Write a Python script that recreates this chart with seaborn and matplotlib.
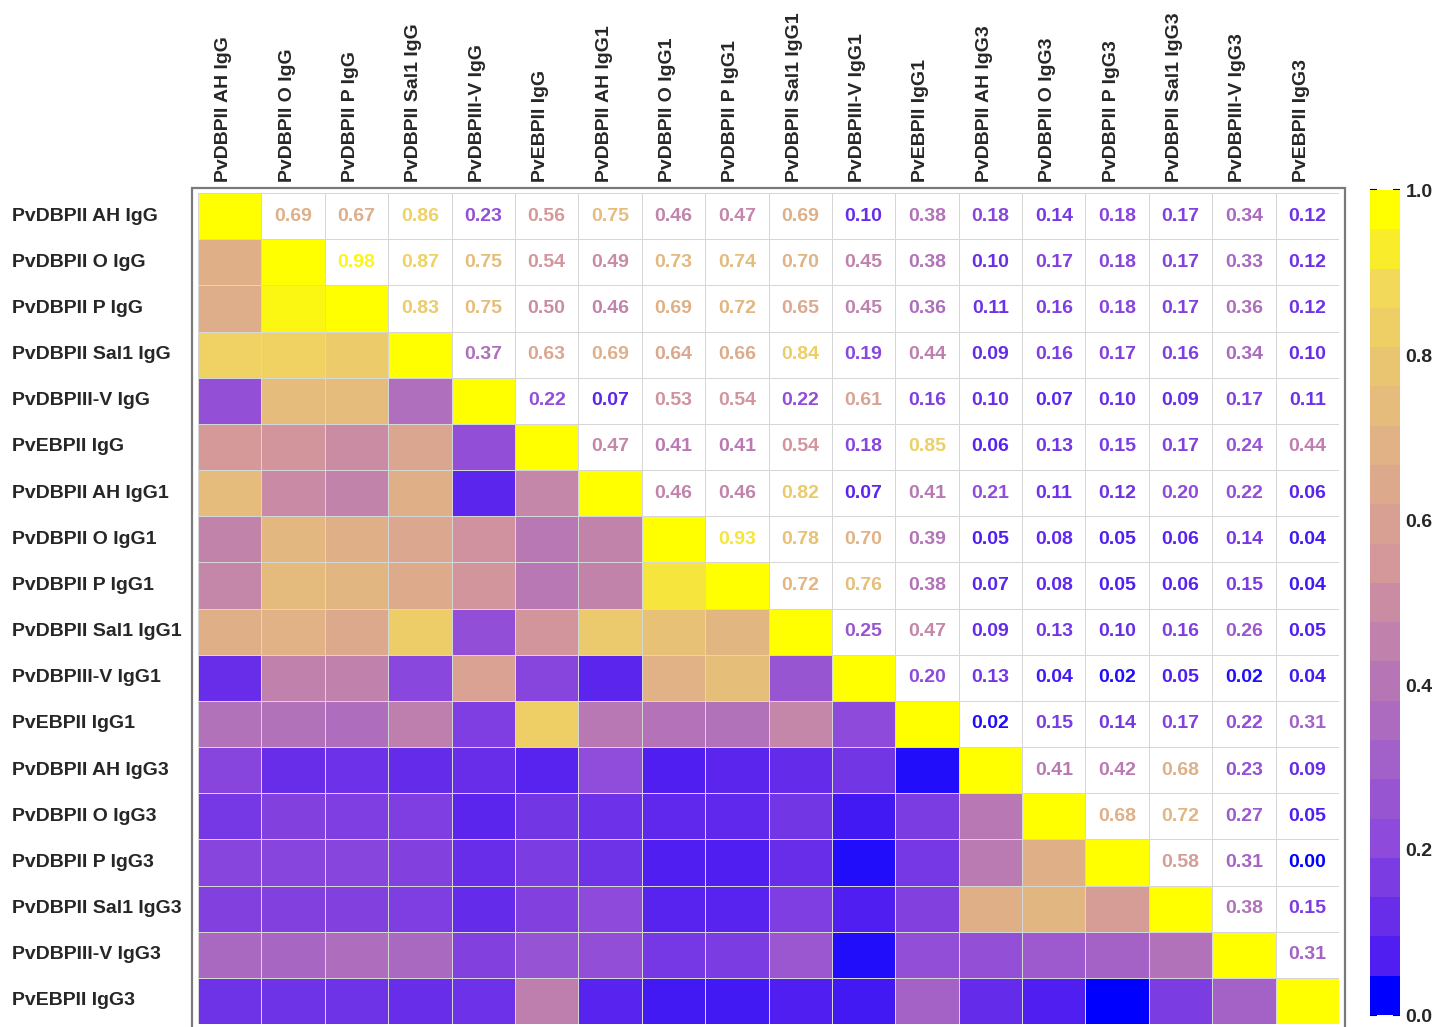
import numpy as np
import matplotlib
matplotlib.use("Agg")
import matplotlib.pyplot as plt
import matplotlib.transforms as mtransforms
from matplotlib.colors import LinearSegmentedColormap, ListedColormap, Normalize
from matplotlib.patches import Rectangle
import seaborn as sns

# antigen / subclass labels (rows and columns)
labels = [
    "PvDBPII AH IgG", "PvDBPII O IgG", "PvDBPII P IgG", "PvDBPII Sal1 IgG",
    "PvDBPIII-V IgG", "PvEBPII IgG",
    "PvDBPII AH IgG1", "PvDBPII O IgG1", "PvDBPII P IgG1", "PvDBPII Sal1 IgG1",
    "PvDBPIII-V IgG1", "PvEBPII IgG1",
    "PvDBPII AH IgG3", "PvDBPII O IgG3", "PvDBPII P IgG3", "PvDBPII Sal1 IgG3",
    "PvDBPIII-V IgG3", "PvEBPII IgG3",
]

# upper triangle, each row starts at the cell right of the diagonal
ah_igg = [0.69, 0.67, 0.86, 0.23, 0.56, 0.75, 0.46, 0.47, 0.69, 0.10, 0.38, 0.18, 0.14, 0.18, 0.17, 0.34, 0.12]
o_igg = [0.98, 0.87, 0.75, 0.54, 0.49, 0.73, 0.74, 0.70, 0.45, 0.38, 0.10, 0.17, 0.18, 0.17, 0.33, 0.12]
p_igg = [0.83, 0.75, 0.50, 0.46, 0.69, 0.72, 0.65, 0.45, 0.36, 0.11, 0.16, 0.18, 0.17, 0.36, 0.12]
sal1_igg = [0.37, 0.63, 0.69, 0.64, 0.66, 0.84, 0.19, 0.44, 0.09, 0.16, 0.17, 0.16, 0.34, 0.10]
iiiv_igg = [0.22, 0.07, 0.53, 0.54, 0.22, 0.61, 0.16, 0.10, 0.07, 0.10, 0.09, 0.17, 0.11]
ebp_igg = [0.47, 0.41, 0.41, 0.54, 0.18, 0.85, 0.06, 0.13, 0.15, 0.17, 0.24, 0.44]
ah_igg1 = [0.46, 0.46, 0.82, 0.07, 0.41, 0.21, 0.11, 0.12, 0.20, 0.22, 0.06]
o_igg1 = [0.93, 0.78, 0.70, 0.39, 0.05, 0.08, 0.05, 0.06, 0.14, 0.04]
p_igg1 = [0.72, 0.76, 0.38, 0.07, 0.08, 0.05, 0.06, 0.15, 0.04]
sal1_igg1 = [0.25, 0.47, 0.09, 0.13, 0.10, 0.16, 0.26, 0.05]
iiiv_igg1 = [0.20, 0.13, 0.04, 0.02, 0.05, 0.02, 0.04]
ebp_igg1 = [0.02, 0.15, 0.14, 0.17, 0.22, 0.31]
ah_igg3 = [0.41, 0.42, 0.68, 0.23, 0.09]
o_igg3 = [0.68, 0.72, 0.27, 0.05]
p_igg3 = [0.58, 0.31, 0.00]
sal1_igg3 = [0.38, 0.15]
iiiv_igg3 = [0.31]

cbar_ticks = [0.0, 0.2, 0.4, 0.6, 0.8, 1.0]

upper_rows = [ah_igg, o_igg, p_igg, sal1_igg, iiiv_igg, ebp_igg,
              ah_igg1, o_igg1, p_igg1, sal1_igg1, iiiv_igg1, ebp_igg1,
              ah_igg3, o_igg3, p_igg3, sal1_igg3, iiiv_igg3]

n = len(labels)
corr = np.eye(n)
for i, row in enumerate(upper_rows):
    for j, v in enumerate(row):
        corr[i, i + 1 + j] = v
        corr[i + 1 + j, i] = v

sns.set_style("white")
plt.rcParams["font.family"] = ["Liberation Sans", "DejaVu Sans"]

# blue -> purple -> tan -> yellow
cmap = LinearSegmentedColormap.from_list("corr", [
    (0.0, "#0000ff"), (0.05, "#5520f0"), (0.2, "#8e4adb"),
    (0.55, "#d4979a"), (0.7, "#e0b286"), (0.9, "#f2d85c"), (1.0, "#ffff00"),
])
cmap_steps = ListedColormap(cmap(np.linspace(0, 1, 21)))
norm = Normalize(0, 1)

fig = plt.figure(figsize=(14.52, 10.27), dpi=100)
ax = fig.add_axes([198 / 1452, 3 / 1027, 1141 / 1452, 831 / 1027])
cax = fig.add_axes([1370 / 1452, 12 / 1027, 30 / 1452, 825 / 1027])

upper = np.triu(np.ones((n, n), dtype=bool), k=1)

# upper triangle: white cells with coloured numbers
sns.heatmap(corr, mask=~upper, cmap=ListedColormap(["white"]), cbar=False,
            annot=True, fmt=".2f",
            annot_kws={"fontsize": 14, "fontweight": "bold"},
            linewidths=0.7, linecolor="#d6d6d6",
            xticklabels=labels, yticklabels=labels, ax=ax)
# lower triangle + diagonal: coloured cells
sns.heatmap(corr, mask=upper, cmap=cmap, vmin=0, vmax=1, cbar=False,
            linewidths=0.7, linecolor="#d6d6d6",
            xticklabels=labels, yticklabels=labels, ax=ax)

for t in ax.texts:
    x, y = t.get_position()
    t.set_color(cmap(norm(corr[int(y), int(x)])))

ax.xaxis.tick_top()
ax.set_xticklabels(labels, rotation=90, fontsize=14, fontweight="bold",
                   va="bottom", ha="center")
ax.tick_params(axis="x", length=0, pad=8)
ax.set_yticklabels(labels, rotation=0, fontsize=14, fontweight="bold", ha="left")
ax.tick_params(axis="y", length=0, pad=134)
shift = mtransforms.ScaledTranslation(-6 / 100, 0, fig.dpi_scale_trans)
for lbl in ax.get_xticklabels():
    lbl.set_transform(lbl.get_transform() + shift)

# grey frame around the matrix
fig.add_artist(Rectangle((192 / 1452, 1 - 1030 / 1027), 1153 / 1452, 842 / 1027,
                         transform=fig.transFigure, fill=False,
                         edgecolor="#7a7a7a", lw=1.6))

sm = plt.cm.ScalarMappable(norm=norm, cmap=cmap_steps)
cb = fig.colorbar(sm, cax=cax, ticks=cbar_ticks)
cb.outline.set_visible(False)
cax.tick_params(direction="in", left=True, right=True, length=5, width=1.5,
                color="black", pad=4)
cax.set_yticklabels([f"{t:.1f}" for t in cbar_ticks], fontsize=14, fontweight="bold")

fig.savefig("out.png", dpi=100)
